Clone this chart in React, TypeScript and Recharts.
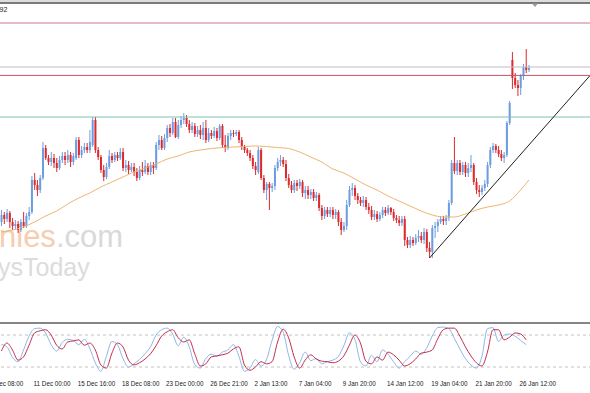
import React from 'react';
import { ComposedChart, Bar, Line, XAxis, YAxis, ReferenceLine } from 'recharts';

// H4 candles (price in points)
const openP = [108,115,111,117,108,104,106,100,108,104,114,118,150,145,140,152,182,172,168,172,167,162,170,174,170,175,168,172,190,175,180,183,180,185,210,180,173,160,153,163,174,170,175,172,178,162,165,160,163,158,152,160,158,164,158,165,162,185,190,182,192,202,197,208,193,205,210,212,206,200,204,196,200,195,202,190,197,194,199,192,204,185,182,194,197,196,198,190,183,180,177,172,164,158,180,152,140,146,142,144,162,168,170,166,152,145,140,147,144,148,137,140,135,138,132,135,122,114,120,116,120,115,118,108,100,104,125,140,142,134,130,127,130,123,120,113,116,111,115,120,117,122,118,112,110,107,111,90,85,90,87,92,94,90,98,82,78,102,104,108,111,109,112,127,167,159,167,158,165,157,162,165,148,140,138,142,146,165,180,184,180,176,172,175,207,270,252,245,242,254,263,260];
const closeP = [115,111,117,108,104,106,100,108,104,114,118,150,145,140,152,182,172,168,172,167,162,170,174,170,175,168,174,190,175,180,183,180,188,210,180,173,160,153,163,174,170,175,172,178,162,165,160,163,158,152,160,158,164,158,165,162,185,190,182,192,202,197,208,193,205,210,212,206,200,204,196,200,195,202,190,197,194,199,192,204,185,182,194,197,196,198,190,183,180,177,172,164,160,180,152,140,146,142,144,162,168,170,166,152,145,140,147,144,148,137,140,135,138,132,135,122,114,120,116,120,115,118,108,100,104,125,140,142,134,130,127,130,123,120,113,116,111,115,120,117,122,118,112,110,107,111,90,85,90,87,92,94,90,98,82,78,102,104,108,111,109,112,127,167,159,167,158,165,157,162,165,148,140,138,142,146,165,180,184,180,176,172,175,207,227,252,245,242,254,263,260,262];
const highP = [120,118,121,119,112,110,109,111,118,117,123,154,157,150,155,188,185,175,178,176,172,174,178,178,180,178,177,193,193,184,187,187,200,213,213,183,175,165,167,180,177,178,178,182,182,170,169,167,167,162,164,168,170,167,168,168,188,195,194,196,205,206,212,212,210,214,217,215,210,208,207,204,205,208,210,202,200,203,202,206,206,195,197,200,200,200,200,193,185,182,180,175,168,183,182,155,148,148,147,165,172,175,173,170,156,149,150,150,151,150,144,144,141,141,138,137,125,123,123,123,123,121,120,112,108,130,144,147,145,137,133,134,133,127,124,120,119,118,123,123,125,123,121,115,114,114,114,93,94,93,96,100,98,102,101,88,105,108,111,114,114,115,130,170,193,170,170,168,168,167,175,167,152,145,145,150,168,183,187,186,184,180,178,209,229,278,257,250,256,266,281,265];
const lowP = [104,106,108,102,100,101,97,98,102,102,110,116,140,134,137,150,170,165,164,162,158,160,167,165,167,163,165,170,172,172,177,177,177,183,177,170,157,149,151,161,167,168,169,170,159,158,156,158,154,149,150,154,156,155,155,156,160,180,180,180,188,193,195,192,191,202,206,203,197,197,193,193,191,190,187,188,191,192,189,190,182,178,180,190,193,194,187,180,177,174,169,161,155,156,150,137,130,120,138,140,159,164,163,149,142,137,137,139,141,133,131,131,131,129,129,119,110,111,113,113,111,111,104,95,98,100,123,134,130,126,124,123,120,116,110,110,108,109,112,114,115,115,109,107,104,104,84,82,82,84,85,88,87,86,78,72,72,92,98,106,105,105,109,125,156,155,155,155,153,153,158,145,136,133,135,139,143,162,177,177,173,169,167,173,205,241,242,234,235,250,257,258];

// moving average read at selected bars
const maBars = [0,4,8,12,16,20,24,28,32,36,40,44,48,52,56,60,64,68,72,76,80,84,88,92,96,100,104,108,112,116,120,124,128,132,136,140,144,148,152,156,160,164,168,172,176,180,184,188,191];
const maValues = [98,100,103,108,114,119,126,132,137,143,148,153,158,162,166,171,174,178,180,181.5,182.5,183,183.5,184,183.5,182.5,181.5,178,173,168,161,157,151,145,140,134,129,124,119,115,113,113,116,120,123,125,129,140,150];

// trend line anchors
const trendBars = [155, 213];
const trendValues = [72, 254];

// horizontal levels
const levelTopRed = 307;
const levelBid = 263;
const levelRed = 254.6;
const levelTeal = 213;

// stochastic (every 2nd bar from bar 0)
const stochMain = [62,58,38,30,52,78,92,93,84,62,50,66,72,70,62,72,55,28,12,40,68,62,36,20,26,34,45,58,80,90,93,82,60,76,58,25,18,36,44,40,48,52,62,40,12,18,34,22,34,70,96,86,42,16,28,48,32,36,26,30,33,40,60,84,72,30,22,42,30,52,44,30,18,30,40,50,44,56,78,94,95,92,74,54,36,24,18,40,92,94,68,80,82,78,70,62];
const stochSignal = [50,65,52,33,39,61,84,88,90,80,61,54,67,69,71,61,65,52,24,18,46,65,58,33,24,28,35,45,60,78,86,90,75,67,71,45,22,26,39,41,43,46,54,58,24,14,20,30,26,30,67,91,75,39,18,33,43,35,31,30,28,31,41,61,80,65,31,26,39,33,48,43,33,22,26,35,46,48,52,73,90,93,93,78,58,41,28,22,48,90,90,71,76,84,82,71];

const tickBars = [-4, 12, 28, 44, 60, 76, 92, 108, 124, 140, 156, 172, 188];
const tickLabels = ['8 Dec 08:00','11 Dec 00:00','15 Dec 16:00','18 Dec 08:00','23 Dec 00:00','26 Dec 21:00','2 Jan 13:00','7 Jan 04:00','9 Jan 20:00','14 Jan 12:00','19 Jan 04:00','21 Jan 20:00','26 Jan 12:00'];

const FIRST = -4;
const LAST = 213;

const mainData: any[] = [];
const subData: any[] = [];
for (let i = FIRST; i <= LAST; i++) {
  const row: any = { i };
  if (i >= 0 && i < closeP.length) {
    row.o = openP[i];
    row.h = highP[i];
    row.l = lowP[i];
    row.c = closeP[i];
  }
  mainData.push(row);
  const s: any = { i };
  if (i >= 0 && i % 2 === 0 && i / 2 < stochMain.length) {
    s.k = stochMain[i / 2];
    s.d = stochSignal[i / 2];
  }
  subData.push(s);
}
maBars.forEach((b, k) => { mainData[b - FIRST].ma = maValues[k]; });
trendBars.forEach((b, k) => { mainData[b - FIRST].trend = trendValues[k]; });

const BLUE = '#6c9de0';
const RED = '#dc2a2e';

const Candle = (props: any) => {
  const { x, y, width, height, payload } = props;
  if (!payload || payload.o == null || x == null || y == null) return null;
  const top = Math.min(y, y + height);
  const bot = Math.max(y, y + height);
  const span = payload.h - payload.l;
  const py = (v: number) => (span === 0 ? top : top + ((payload.h - v) / span) * (bot - top));
  const cx = x + width / 2;
  const up = payload.c >= payload.o;
  const col = up ? BLUE : RED;
  const bt = py(Math.max(payload.o, payload.c));
  const bb = py(Math.min(payload.o, payload.c));
  return (
    <g>
      <line x1={cx} x2={cx} y1={top} y2={Math.max(bot, top + 1)} stroke={col} strokeWidth={1} />
      <rect x={cx - 1} y={bt} width={2} height={Math.max(bb - bt, 1)} fill={col} />
    </g>
  );
};

const XTick = (props: any) => {
  const { x, payload } = props;
  const idx = tickBars.indexOf(payload.value);
  if (idx < 0) return null;
  return (
    <text x={x - 1} y={75.6} fontSize={6.3} fontFamily="'Liberation Sans', Arial, sans-serif" fill="#222" textAnchor="start">
      {tickLabels[idx]}
    </text>
  );
};

const W = 602;
const LEFT = -11;

export default function App() {
  return (
    <div style={{ position: 'absolute', left: 0, top: 0, width: 590, height: 393, overflow: 'hidden', background: '#fff' }}>
      <svg width={590} height={393} style={{ position: 'absolute', left: 0, top: 0 }}>
        <text x={-1} y={247} fontSize={31} fontFamily="'Liberation Sans', Arial, sans-serif">
          <tspan fill="#f6cdb0">nies</tspan>
          <tspan fill="#d9d9d9">.com</tspan>
        </text>
        <text x={-2} y={276} fontSize={25} fontFamily="'Liberation Sans', Arial, sans-serif" fill="#dcdcdc">ysToday</text>
      </svg>
      <div style={{ position: 'absolute', left: LEFT, top: 0 }}>
        <ComposedChart width={W} height={320} data={mainData} margin={{ top: 3, right: 0, bottom: 0, left: 0 }} barCategoryGap={0} barGap={0}>
          <XAxis dataKey="i" type="category" scale="band" hide />
          <YAxis type="number" domain={[10, 327]} allowDataOverflow hide />
          <ReferenceLine y={levelTopRed} stroke="#c9788a" strokeWidth={1} />
          <ReferenceLine y={levelBid} stroke="#bcbcc6" strokeWidth={1} />
          <ReferenceLine y={levelRed} stroke="#c0566c" strokeWidth={1} />
          <ReferenceLine y={levelTeal} stroke="#7cc3b5" strokeWidth={1} />
          <Line dataKey="ma" type="monotone" stroke="#efb470" strokeWidth={1} dot={false} connectNulls isAnimationActive={false} />
          <Bar dataKey={(d: any) => (d.o == null ? null : [d.l, d.h])} shape={<Candle />} isAnimationActive={false} />
          <Line dataKey="trend" type="linear" stroke="#1e1e1e" strokeWidth={1} dot={false} connectNulls isAnimationActive={false} />
        </ComposedChart>
      </div>
      <div style={{ position: 'absolute', left: 0, top: 0, width: 590, height: 2, background: '#dcdcdc' }} />
      <div style={{ position: 'absolute', left: 0, top: 2, width: 590, height: 1.5, background: '#7a7a7a' }} />
      <svg width={590} height={20} style={{ position: 'absolute', left: 0, top: 0 }}>
        <polygon points="532,3.5 538,3.5 535,7" fill="#9a9a9a" />
        <text x={-0.5} y={12} fontSize={7} fontFamily="'Liberation Sans', Arial, sans-serif" fill="#222">92</text>
      </svg>
      <div style={{ position: 'absolute', left: 0, top: 322, width: 590, height: 2, background: '#858585' }} />
      <div style={{ position: 'absolute', left: LEFT, top: 310 }}>
        <ComposedChart width={W} height={83} data={subData} margin={{ top: 14.4, right: 0, bottom: 0, left: 0 }}>
          <XAxis dataKey="i" type="category" scale="band" height={15.3} ticks={tickBars} interval={0} tick={<XTick />} axisLine={false} tickLine={false} tickSize={0} tickMargin={0} />
          <YAxis type="number" domain={[0, 100]} hide />
          <ReferenceLine y={80} stroke="#c4c4c4" strokeDasharray="3 3" />
          <ReferenceLine y={20} stroke="#c4c4c4" strokeDasharray="3 3" />
          <Line dataKey="k" type="monotone" stroke="#8fb6e4" strokeWidth={1} dot={false} connectNulls isAnimationActive={false} />
          <Line dataKey="d" type="monotone" stroke="#c42c4c" strokeWidth={1} dot={false} connectNulls isAnimationActive={false} />
        </ComposedChart>
      </div>
    </div>
  );
}
